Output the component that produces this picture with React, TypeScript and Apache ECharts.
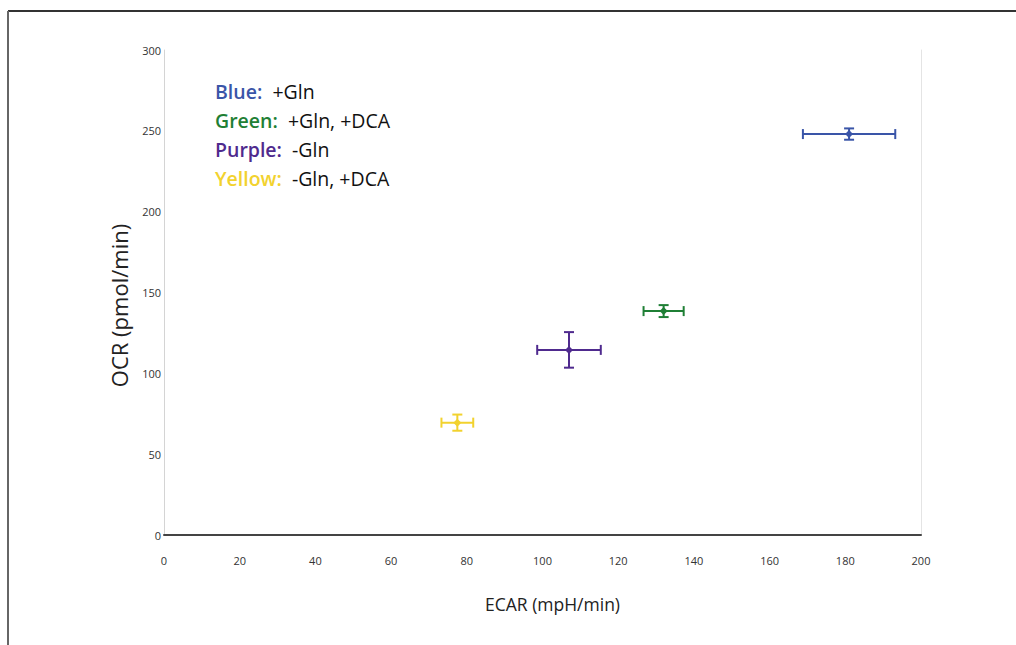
import React, { useEffect, useRef } from "react";
import * as echarts from "echarts";

const groups = ["Blue", "Green", "Purple", "Yellow"];
const conditions = ["+Gln", "+Gln, +DCA", "-Gln", "-Gln, +DCA"];
const colors = ["#3a55a8", "#1f7f35", "#4f2a8e", "#f2d22e"];
const ecar = [181, 132, 107, 77.5];
const ecarErr = [12.2, 5.3, 8.4, 4.2];
const ocr = [248, 138.5, 114.5, 69.5];
const ocrErr = [3.5, 3.7, 11, 5];
const xTicks = { min: 0, max: 200, interval: 20 };
const yTicks = { min: 0, max: 300, interval: 50 };

const FONT = "Open Sans";

export default function App() {
  const ref = useRef<HTMLDivElement>(null);
  useEffect(() => {
    document.body.style.margin = "0";
    const chart = echarts.init(ref.current!, null, { renderer: "svg" });
    const series = groups.map((g, i) => ({
      type: "custom",
      name: g,
      encode: { x: 0, y: 1 },
      data: [[ecar[i], ocr[i], ecarErr[i], ocrErr[i]]],
      renderItem: (params: any, api: any) => {
        const x = api.value(0), y = api.value(1), ex = api.value(2), ey = api.value(3);
        const c = api.coord([x, y]);
        const l = api.coord([x - ex, y]);
        const r = api.coord([x + ex, y]);
        const t = api.coord([x, y + ey]);
        const b = api.coord([x, y - ey]);
        const cap = 5;
        const style = { stroke: colors[i], lineWidth: 2, fill: null };
        const ln = (x1: number, y1: number, x2: number, y2: number) => ({
          type: "line",
          shape: { x1, y1, x2, y2 },
          style,
        });
        const d = 4;
        return {
          type: "group",
          children: [
            ln(l[0], l[1], r[0], r[1]),
            ln(l[0], l[1] - cap, l[0], l[1] + cap),
            ln(r[0], r[1] - cap, r[0], r[1] + cap),
            ln(t[0], t[1], b[0], b[1]),
            ln(t[0] - cap, t[1], t[0] + cap, t[1]),
            ln(b[0] - cap, b[1], b[0] + cap, b[1]),
            {
              type: "polygon",
              shape: { points: [[c[0], c[1] - d], [c[0] + d, c[1]], [c[0], c[1] + d], [c[0] - d, c[1]]] },
              style: { fill: colors[i] },
            },
          ],
        };
      },
    }));

    const legendLines = groups.map((g, i) => `{c${i}|${g}:}{t|  ${conditions[i]}}`).join("\n");
    const rich: any = { t: { fontFamily: FONT, fontSize: 19.5, fill: "#111", lineHeight: 29 } };
    groups.forEach((g, i) => {
      rich["c" + i] = { fontFamily: FONT, fontSize: 19.5, fontWeight: 600, fill: colors[i], lineHeight: 29 };
    });

    chart.setOption({
      animation: false,
      backgroundColor: "#fff",
      grid: { left: 164, right: 95, top: 50, bottom: 110 },
      xAxis: {
        type: "value",
        ...xTicks,
        name: "ECAR (mpH/min)",
        nameLocation: "middle",
        nameGap: 60,
        nameTextStyle: { fontFamily: FONT, fontSize: 17.5, color: "#222", padding: [0, 0, 0, 20] },
        axisLine: { show: true, lineStyle: { color: "#444", width: 2 } },
        axisTick: { show: false },
        splitLine: { show: false },
        axisLabel: { fontFamily: FONT, fontSize: 11, color: "#333", margin: 20 },
      },
      yAxis: [
        {
          type: "value",
          ...yTicks,
          name: "OCR (pmol/min)",
          nameLocation: "middle",
          nameGap: 34,
          nameTextStyle: { fontFamily: FONT, fontSize: 22, color: "#222", padding: [0, 26, 0, 0] },
          axisLine: { show: true, lineStyle: { color: "#d4d4d4", width: 1 } },
          axisTick: { show: false },
          splitLine: { show: false },
          axisLabel: { fontFamily: FONT, fontSize: 11, color: "#333", margin: 3 },
        },
        {
          type: "value",
          ...yTicks,
          position: "right",
          axisLine: { show: true, lineStyle: { color: "#e4e4e4", width: 1 } },
          axisTick: { show: false },
          splitLine: { show: false },
          axisLabel: { show: false },
        },
      ],
      graphic: [
        { type: "line", shape: { x1: 8, y1: 11, x2: 1016, y2: 11 }, style: { stroke: "#333", lineWidth: 2 } },
        { type: "line", shape: { x1: 8, y1: 11, x2: 8, y2: 645 }, style: { stroke: "#666", lineWidth: 2 } },
        { type: "text", left: 215, top: 81, style: { text: legendLines, rich } },
      ],
      series,
    });
    return () => chart.dispose();
  }, []);
  return <div ref={ref} style={{ width: 1016, height: 645, display: "block" }} />;
}
